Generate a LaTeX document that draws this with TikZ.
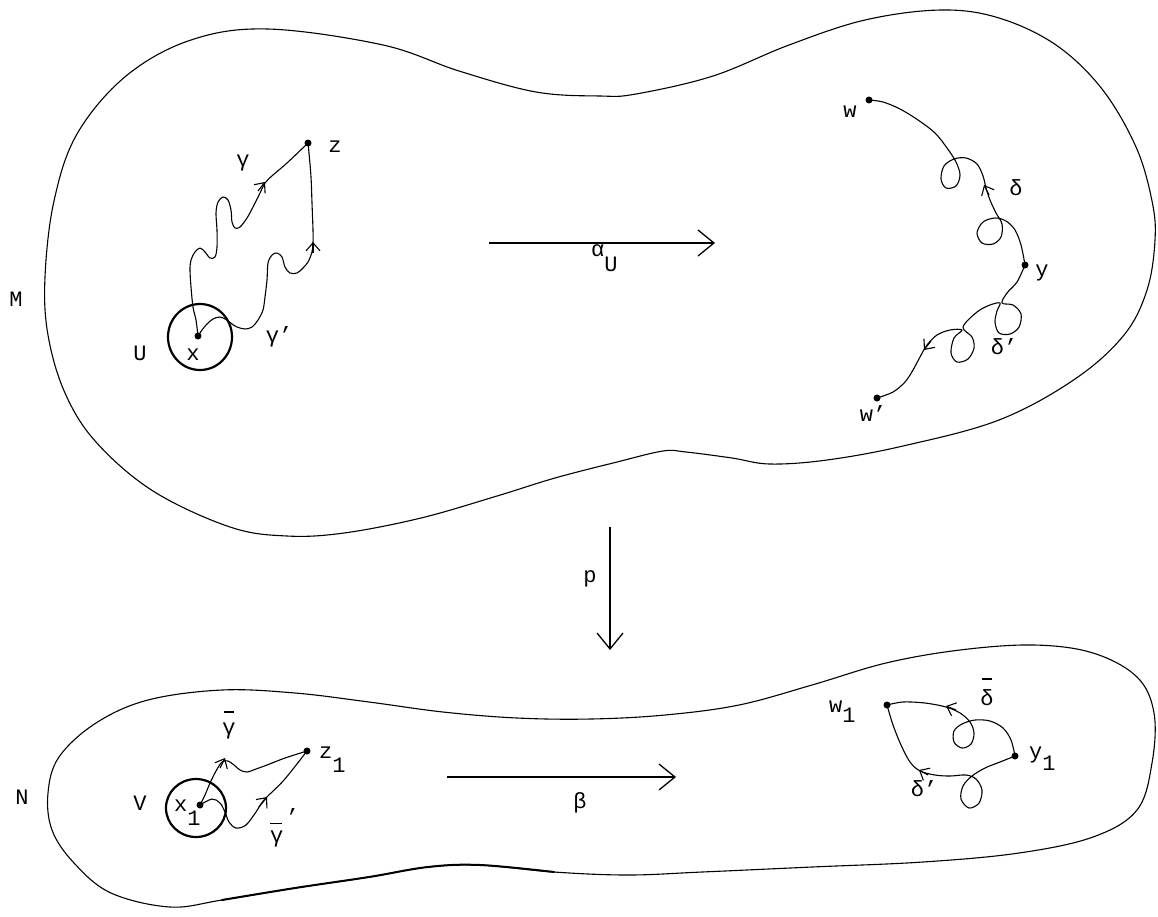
\documentclass[tikz,border=0pt]{standalone}
\usepackage{fontspec}
\setmainfont{Liberation Mono}
\usetikzlibrary{arrows.meta}
\newcommand{\tq}{\symbol{39}}
\begin{document}
\begin{tikzpicture}[x=1pt,y=-1pt,
  outline/.style={line width=1.1pt, line join=round},
  curve/.style={line width=1.1pt, line join=round, line cap=round},
  ring/.style={line width=2.2pt},
  dot/.style={circle, fill=black, inner sep=0pt, minimum size=7pt},
  lab/.style={inner sep=0pt, font=\fontsize{22}{26}\selectfont},
  bigarrow/.style={line width=1.3pt, -{Straight Barb[length=16pt,width=26pt,line width=1.3pt]}},
  midarrow/.style={line width=1.1pt, -{Straight Barb[length=8pt,width=14pt,line width=1.1pt]}},
]
\fill[white] (0,0) rectangle (1158,916);
\useasboundingbox (0,0) rectangle (1158,916);

% ---------- outline of M ----------
\draw[outline] plot[smooth cycle, tension=0.6] coordinates {
 (45,277) (54,201) (77,134) (126,76) (191,40) (268,29) (383,45) (459,71)
 (536,92) (600,96) (636,94) (713,76) (789,45) (865,20) (941,10) (999,18)
 (1056,45) (1102,89) (1136,147) (1152,201) (1155,240) (1147,290) (1124,335)
 (1075,379) (999,420) (903,446) (827,460) (770,464) (732,458) (686,452)
 (663,451) (617,462) (555,478) (497,496) (421,518) (344,533) (287,536)
 (230,527) (153,491) (96,442) (65,393) (48,335)};

% ---------- outline of N ----------
\draw[outline] plot[smooth cycle, tension=0.6] coordinates {
 (48,793) (59,757) (96,723) (148,700) (222,690) (295,693) (369,702)
 (443,712) (517,718) (591,719) (665,715) (739,705) (812,685) (886,663)
 (960,650) (1034,645) (1093,653) (1137,677) (1154,713) (1152,763)
 (1137,810) (1093,837) (1019,853) (923,862) (812,867) (702,872)
 (628,875) (554,872) (480,865) (428,867) (369,877) (295,888) (222,900)
 (170,907) (111,893) (74,863) (52,830)};
% heavier stretch of the lower edge of N
\draw[line width=2pt, line cap=round] plot[smooth, tension=0.6] coordinates {
 (222,900) (295,888) (369,877) (428,867) (480,865) (554,872)};

% ---------- neighbourhoods ----------
\draw[ring] (200,337) ellipse [x radius=32pt, y radius=33pt];
\draw[ring] (196,808) ellipse [x radius=30pt, y radius=29pt];

% ---------- points ----------
\node[dot] (x) at (198,336) {};
\node[dot] (z) at (308,143) {};
\node[dot] (w) at (869,100) {};
\node[dot] (y) at (1025,265) {};
\node[dot] (wp) at (877,398) {};
\node[dot] (x1) at (200,805) {};
\node[dot] (z1) at (307,751) {};
\node[dot] (w1) at (887,705) {};
\node[dot] (y1) at (1015,756) {};

% ---------- paths in M ----------
\draw[curve] plot[smooth, tension=0.55] coordinates {(x.center) (196,320) (193,307)
 (191,287) (190,270) (191,260) (195,252) (200,248) (205,252) (210,258) (215,257)
 (217,247) (217,230) (216,213) (218,202) (223,197) (228,200) (231,210) (232,222)
 (235,228) (240,227) (247,218) (253,207) (260,193) (265,183) (273,175) (287,163)
 (z.center)};
\draw[curve] plot[smooth, tension=0.55] coordinates {(x.center) (202,330) (207,324)
 (213,319) (220,317) (227,320) (232,324) (237,327) (245,329) (252,327) (258,320)
 (263,310) (265,297) (267,280) (268,263) (272,255) (277,253) (282,257) (285,267)
 (290,273) (297,273) (303,268) (308,262) (312,252) (313,243) (313,230) (312,203)
 (311,177) (309,153) (z.center)};
\draw[midarrow] (258,191) -- (265,182);
\draw[midarrow] (313,253) -- (313,242);

\draw[curve] plot[smooth, tension=0.55] coordinates {(w.center) (883,102) (900,109)
 (918,120) (935,133) (947,148) (956,162) (960,175) (956,186) (946,188) (941,179)
 (944,166) (954,159) (966,158) (977,164) (983,176) (986,188) (990,200) (996,213)
 (1002,224) (1001,237) (993,244) (982,243) (977,233) (983,222) (995,218)
 (1006,221) (1015,230) (1021,245) (y.center)};
\draw[midarrow] (989,195) -- (984,185);

\draw[curve] plot[smooth, tension=0.55] coordinates {(y.center) (1017,282)
 (1007,293) (1002,303) (1013,305) (1021,314) (1019,327) (1010,334) (999,333)
 (995,322) (997,311) (1000,303) (990,305) (977,312) (963,327) (972,337)
 (974,348) (968,359) (957,362) (951,353) (954,338) (962,330) (950,330)
 (937,335) (927,345) (920,357) (913,370) (905,382) (893,392) (wp.center)};
\draw[midarrow] (931,341) -- (924,350);

% ---------- paths in N ----------
\draw[curve] plot[smooth, tension=0.55] coordinates {(x1.center) (205,795)
 (210,783) (216,771) (222,762) (228,761) (234,765) (240,770) (247,772)
 (256,769) (267,765) (285,758) (z1.center)};
\draw[midarrow] (220,768) -- (225,758);
\draw[curve] plot[smooth, tension=0.55] coordinates {(x1.center) (212,799)
 (220,803) (225,812) (229,822) (236,828) (246,825) (256,812) (264,800)
 (284,780) (z1.center)};
\draw[midarrow] (259,807) -- (267,797);

\draw[curve] plot[smooth, tension=0.55] coordinates {(w1.center) (903,702)
 (925,703) (946,707) (960,713) (970,722) (974,733) (971,744) (962,748)
 (954,742) (954,731) (962,724) (975,720) (990,721) (1003,728) (1011,740)
 (y1.center)};
\draw[midarrow] (956,710) -- (946,706);
\draw[curve] plot[smooth, tension=0.55] coordinates {(y1.center) (1000,762)
 (985,768) (972,776) (963,786) (961,799) (969,808) (979,803) (982,790)
 (976,779) (966,775) (950,776) (935,775) (920,771) (910,762) (901,745)
 (893,725) (w1.center)};
\draw[midarrow] (928,775) -- (919,770);

% ---------- maps ----------
\coordinate (aS) at (489,243);
\coordinate (aE) at (715,243);
\draw[bigarrow] (aS) -- (aE);
\coordinate (pS) at (610,527);
\coordinate (pE) at (610,650);
\draw[bigarrow] (pS) -- (pE);
\coordinate (bS) at (447,777);
\coordinate (bE) at (676,777);
\draw[bigarrow] (bS) -- (bE);

% ---------- labels ----------
\node[lab] (lM) at (16,299) {M};
\node[lab] (lN) at (22,797) {N};
\node[lab] (lU) at (140,353) {U};
\node[lab] (lx) at (193,355) {x};
\node[lab] (lz) at (335,147) {z};
\node[lab] (lg) at (243,163) {γ};
\node[lab] (lgp) at (279,337) {γ\tq};
\node[lab, anchor=base west] (la) at (591,256) {α\raisebox{-15pt}{U}};
\node[lab] (lw) at (850,112) {w};
\node[lab] (ld) at (1016,188) {δ};
\node[lab] (ly) at (1042,273) {y};
\node[lab] (ldp) at (1004,347) {δ\tq};
\node[lab] (lwp) at (873,414) {w\tq};
\node[lab] (lp) at (590,579) {p};
\node[lab] (lV) at (140,803) {V};
\node[lab, anchor=base west] (lx1) at (174,811) {x\raisebox{-14pt}{1}};
\node[lab] (lgb) at (229,725) {\shortstack{\rule{10pt}{1.3pt}\\[7pt]γ}};
\node[lab, anchor=base west] (lz1) at (319,758) {z\raisebox{-14pt}{1}};
\node[lab, anchor=north west] (lgbp) at (270,808) {\shortstack[l]{\rule{12pt}{1.3pt}\,\tq\\[4pt]γ}};
\node[lab] (lb) at (580,803) {β};
\node[lab, anchor=base west] (lw1) at (829,712) {w\raisebox{-10pt}{1}};
\node[lab] (ldb) at (987,692) {\shortstack{\rule{10pt}{1.3pt}\\[7pt]δ}};
\node[lab, anchor=base west] (ly1) at (1029,758) {y\raisebox{-12pt}{1}};
\node[lab] (ldp1) at (924,789) {δ\tq};
\end{tikzpicture}
\end{document}
